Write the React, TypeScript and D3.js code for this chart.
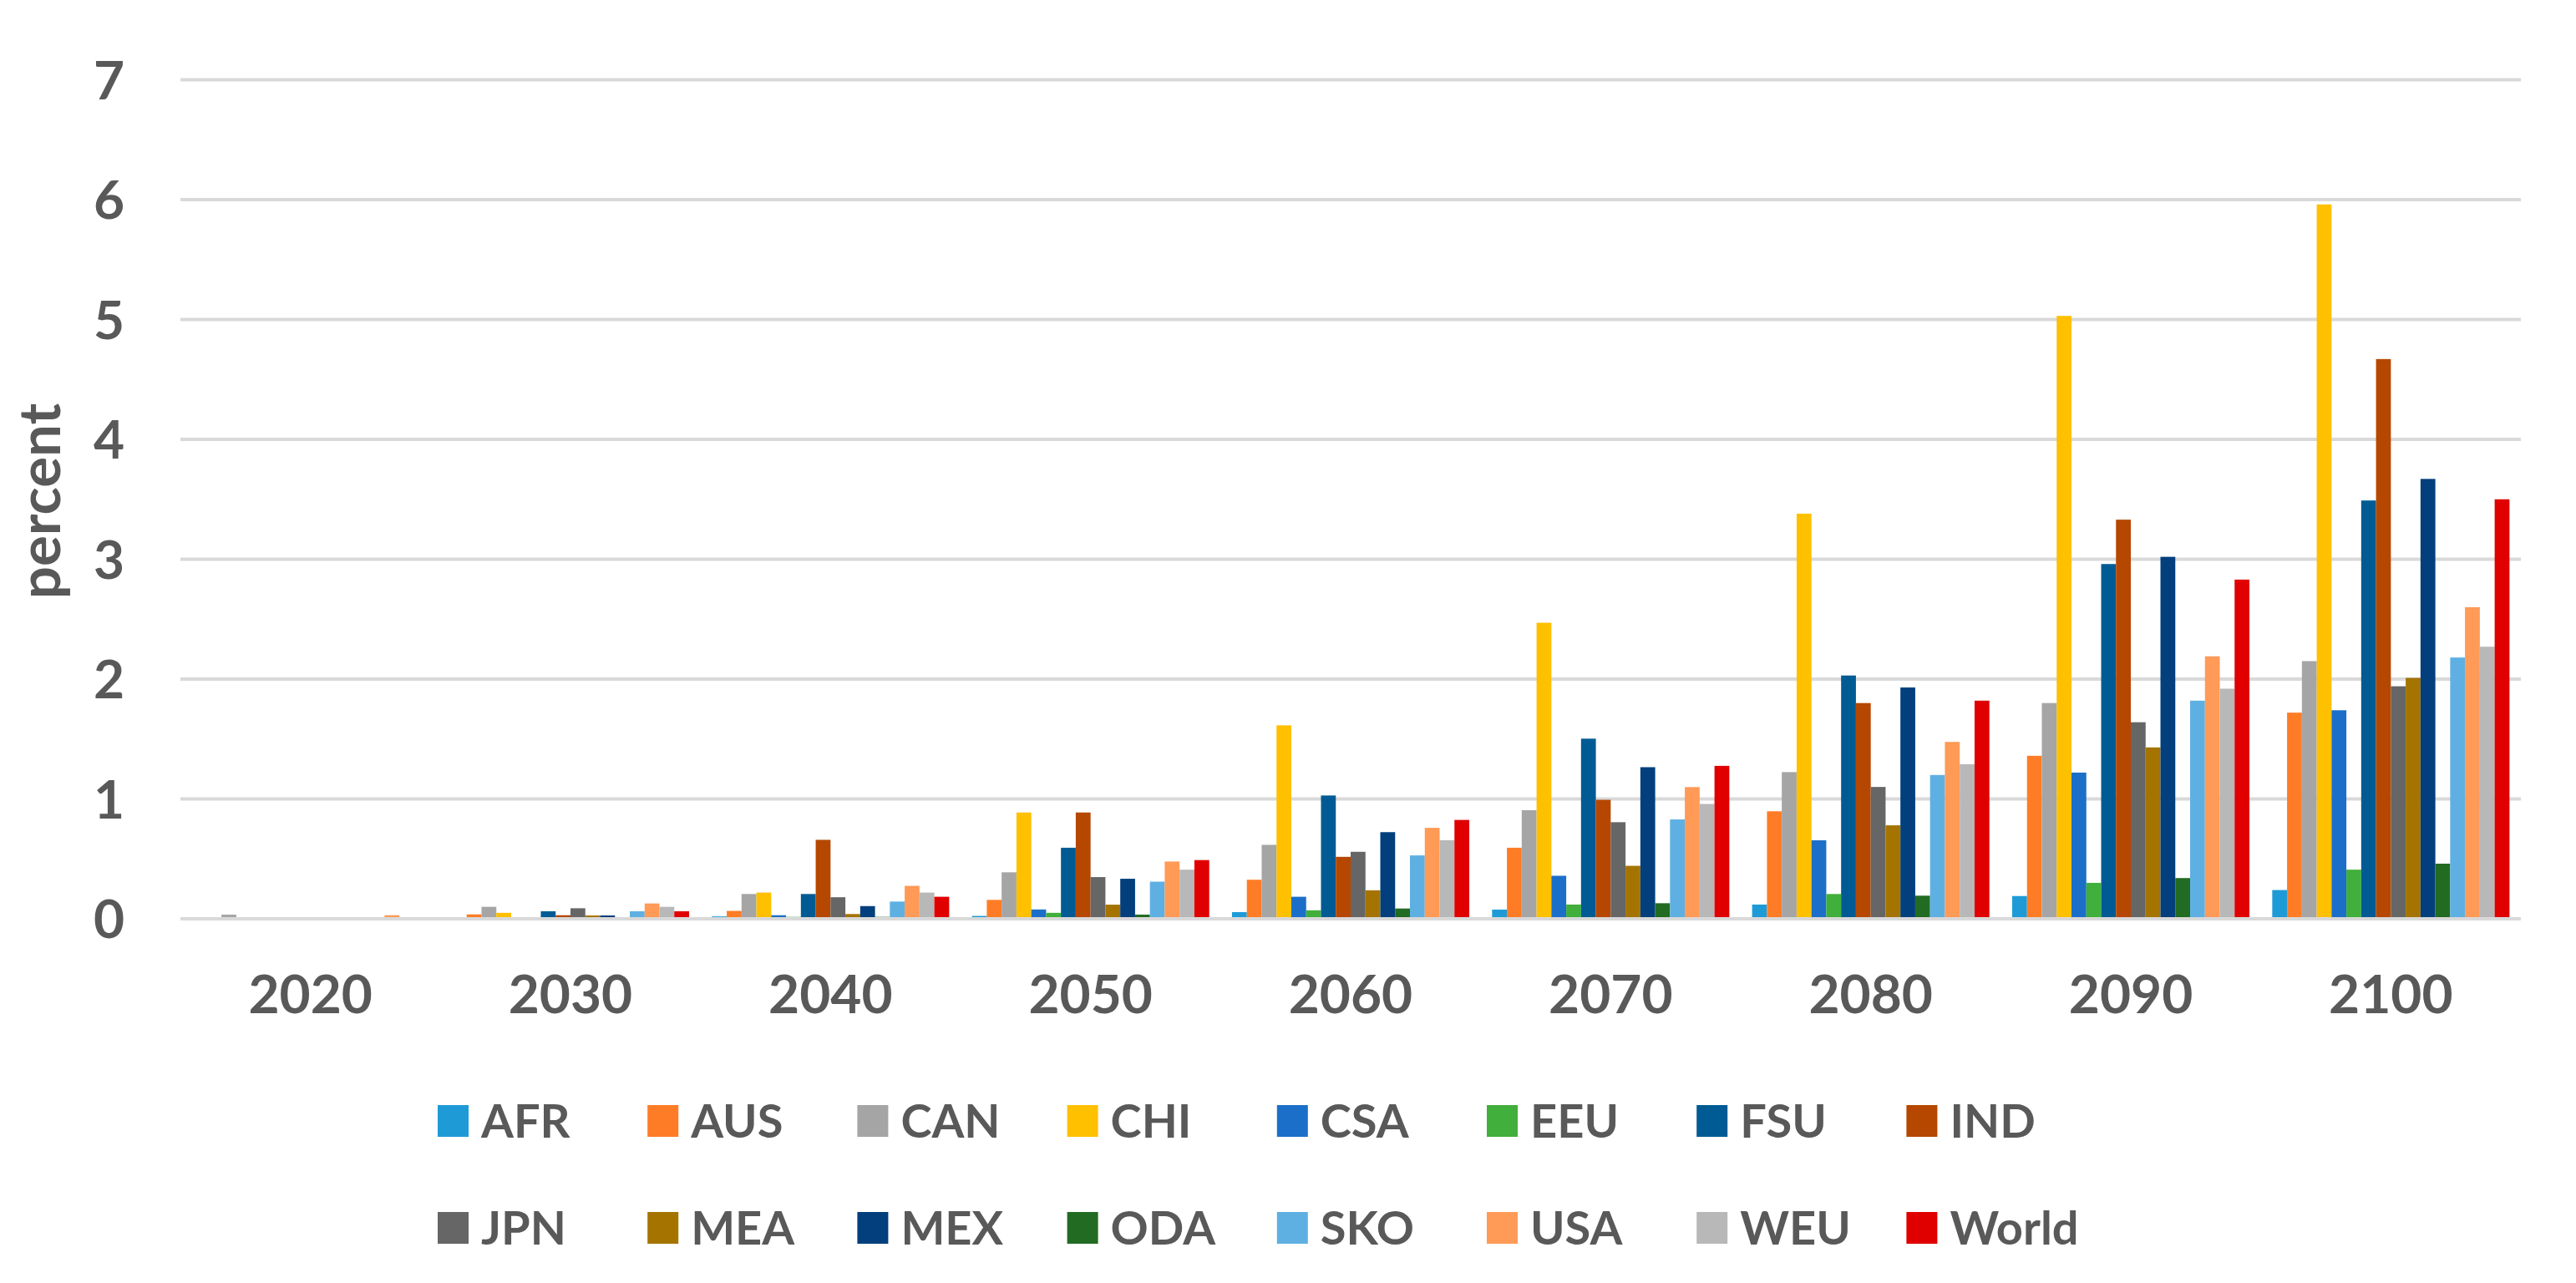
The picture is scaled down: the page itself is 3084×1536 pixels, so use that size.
import React from "react";
import * as d3 from "d3";

const years = ["2020", "2030", "2040", "2050", "2060", "2070", "2080", "2090", "2100"];
const seriesNames = ["AFR", "AUS", "CAN", "CHI", "CSA", "EEU", "FSU", "IND", "JPN", "MEA", "MEX", "ODA", "SKO", "USA", "WEU", "World"];
const seriesColors = ["#1E9BD7", "#FF7C26", "#A5A5A5", "#FFC000", "#1C6FC8", "#41AF3B", "#005B94", "#B54700", "#666666", "#A57400", "#023F7C", "#226B22", "#5EB0E3", "#FF9A57", "#B8B8B8", "#E00000"];

const AFR = [0, 0, 0.02, 0.024, 0.056, 0.077, 0.119, 0.19, 0.24];
const AUS = [0.004, 0.037, 0.066, 0.158, 0.326, 0.593, 0.897, 1.36, 1.72];
const CAN = [0.035, 0.1, 0.207, 0.388, 0.617, 0.906, 1.224, 1.8, 2.15];
const CHI = [0.005, 0.05, 0.219, 0.887, 1.614, 2.47, 3.38, 5.03, 5.96];
const CSA = [0, 0.004, 0.03, 0.078, 0.184, 0.359, 0.655, 1.22, 1.74];
const EEU = [0, 0.004, 0.016, 0.05, 0.071, 0.119, 0.207, 0.3, 0.41];
const FSU = [0, 0.063, 0.207, 0.593, 1.029, 1.503, 2.03, 2.96, 3.49];
const IND = [0.004, 0.03, 0.659, 0.887, 0.517, 0.993, 1.8, 3.33, 4.67];
const JPN = [0.006, 0.088, 0.18, 0.348, 0.559, 0.806, 1.1, 1.64, 1.94];
const MEA = [0, 0.028, 0.04, 0.118, 0.238, 0.442, 0.78, 1.43, 2.01];
const MEX = [0, 0.028, 0.106, 0.334, 0.723, 1.265, 1.93, 3.02, 3.67];
const ODA = [0, 0.004, 0.016, 0.035, 0.086, 0.13, 0.193, 0.34, 0.46];
const SKO = [0, 0.063, 0.144, 0.31, 0.529, 0.829, 1.2, 1.82, 2.18];
const USA = [0.03, 0.128, 0.275, 0.478, 0.759, 1.099, 1.476, 2.19, 2.6];
const WEU = [0.005, 0.1, 0.219, 0.41, 0.656, 0.958, 1.29, 1.92, 2.27];
const World = [0.01, 0.063, 0.184, 0.49, 0.825, 1.276, 1.82, 2.83, 3.5];

const seriesValues = [AFR, AUS, CAN, CHI, CSA, EEU, FSU, IND, JPN, MEA, MEX, ODA, SKO, USA, WEU, World];
const yTicks = [0, 1, 2, 3, 4, 5, 6, 7];

const W = 3084;
const H = 1536;
const FONT = "Lato, 'Open Sans', 'DejaVu Sans', sans-serif";
const TEXT = "#595959";

export default function App() {
  const x0 = d3.scaleBand<string>().domain(years).range([216, 3018]).paddingInner(0.0877).paddingOuter(0.0438);
  const x1 = d3.scaleBand<string>().domain(seriesNames).range([0, x0.bandwidth()]).padding(0);
  const y = d3.scaleLinear().domain([0, 7]).range([1100, 95.5]);
  const [xl, xr] = x0.range();

  return (
    <svg width={W} height={H} style={{ position: "absolute", left: 0, top: 0, background: "#fff" }} fontFamily={FONT}>
      <rect x={0} y={0} width={W} height={H} fill="#ffffff" />
      {yTicks.map((t) => (
        <g key={t}>
          <line x1={xl} x2={xr} y1={y(t)} y2={y(t)} stroke="#D9D9D9" strokeWidth={4} />
          <text x={149} y={y(t)} dy="0.36em" textAnchor="end" fontSize={64} fontWeight="bold" fill={TEXT}>
            {t}
          </text>
        </g>
      ))}
      {years.map((yr, gi) => (
        <g key={yr} transform={`translate(${x0(yr)},0)`}>
          {seriesNames.map((s, si) => {
            const v = seriesValues[si][gi];
            return (
              <rect
                key={s}
                x={x1(s)}
                y={y(v)}
                width={x1.bandwidth()}
                height={y(0) - y(v)}
                fill={seriesColors[si]}
              />
            );
          })}
        </g>
      ))}
      <line x1={xl} x2={xr} y1={y(0)} y2={y(0)} stroke="#D9D9D9" strokeWidth={4} />
      {years.map((yr) => (
        <text key={yr} x={(x0(yr) as number) + x0.bandwidth() / 2} y={1213} textAnchor="middle" fontSize={64} fontWeight="bold" fill={TEXT}>
          {yr}
        </text>
      ))}
      <text transform="translate(72,600) rotate(-90)" textAnchor="middle" fontSize={69} fontWeight="bold" fill={TEXT}>
        percent
      </text>
      {seriesNames.map((s, i) => {
        const col = i % 8;
        const row = Math.floor(i / 8);
        const lx = 524 + col * 251.2;
        const cy = row === 0 ? 1342 : 1470;
        return (
          <g key={s}>
            <rect x={lx} y={cy - 19} width={37} height={38} fill={seriesColors[i]} />
            <text x={lx + 52} y={cy + 20} fontSize={56} fontWeight="bold" fill={TEXT}>
              {s}
            </text>
          </g>
        );
      })}
    </svg>
  );
}
